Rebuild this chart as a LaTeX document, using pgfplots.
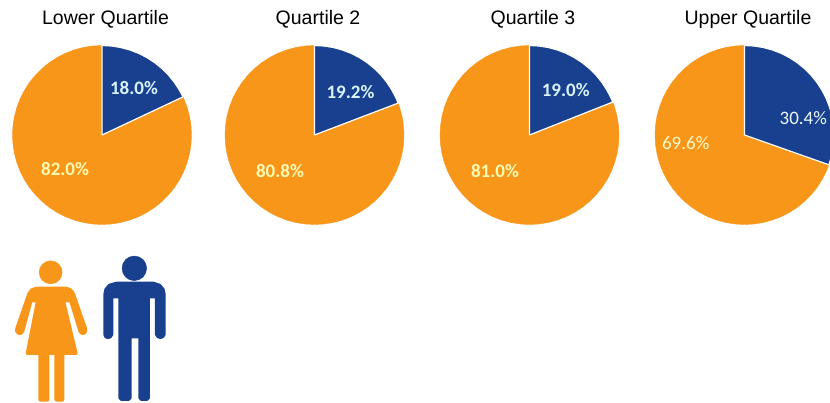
\documentclass[border=0pt]{standalone}
\usepackage{pgfplots}
\usepackage{fontspec}
\pgfplotsset{compat=1.18}
\usepgfplotslibrary{polar}
\setmainfont{Liberation Sans}
\newfontfamily\lab{Carlito}
\definecolor{orng}{HTML}{F8961A}
\definecolor{navy}{HTML}{18408E}
\pgfplotsset{
  pie/.style={
    hide axis, clip=false, scale only axis, width=179pt, height=179pt,
    xmin=0, xmax=360, ymin=0, ymax=1, anchor=center,
    every axis title shift=0pt,
    title style={at={(0.5,1)}, anchor=base, yshift=21pt, xshift=3.5pt, font=\fontsize{19.5}{21}\selectfont},
  },
  big/.style={draw=orng, line width=0.4pt, fill=orng, line join=round},
  small/.style={draw=white, line width=1.2pt, fill=navy, line join=round},
}
\newcommand{\pct}[3]{\node[text=#3, font=\lab\bfseries\fontsize{19}{20}\selectfont] at (axis cs:#1) {#2};}
\newcommand{\pctreg}[3]{\node[text=#3, font=\lab\fontsize{19}{20}\selectfont] at (axis cs:#1) {#2};}
\begin{document}
\begin{tikzpicture}
\path[use as bounding box] (0,0) rectangle (830pt,403pt);

\begin{polaraxis}[pie, at={(102pt,268pt)}, title={Lower Quartile}]
\addplot[big] coordinates {(90,0) (90,1) (96,1) (102,1) (108,1) (114,1) (120,1) (126,1) (132,1) (138,1) (144,1) (150,1) (156,1) (162,1) (168,1) (174,1) (180,1) (186,1) (192,1) (198,1) (204,1) (210,1) (216,1) (222,1) (228,1) (234,1) (240,1) (246,1) (252,1) (258,1) (264,1) (270,1) (276,1) (282,1) (288,1) (294,1) (300,1) (306,1) (312,1) (318,1) (324,1) (330,1) (336,1) (342,1) (348,1) (354,1) (360,1) (6,1) (12,1) (18,1) (24,1) (25.2,1) (25.2,0)};
\addplot[small] coordinates {(90,0) (90,1) (84,1) (78,1) (72,1) (66,1) (60,1) (54,1) (48,1) (42,1) (36,1) (30,1) (25.2,1) (25.2,0) (90,0)};
\pct{55.7,0.635}{18.0\%}{white!85!cyan}
\pct{222.6,0.561}{82.0\%}{white!70!yellow}
\end{polaraxis}

\begin{polaraxis}[pie, at={(314.5pt,268pt)}, title={Quartile 2}]
\addplot[big] coordinates {(90,0) (90,1) (96,1) (102,1) (108,1) (114,1) (120,1) (126,1) (132,1) (138,1) (144,1) (150,1) (156,1) (162,1) (168,1) (174,1) (180,1) (186,1) (192,1) (198,1) (204,1) (210,1) (216,1) (222,1) (228,1) (234,1) (240,1) (246,1) (252,1) (258,1) (264,1) (270,1) (276,1) (282,1) (288,1) (294,1) (300,1) (306,1) (312,1) (318,1) (324,1) (330,1) (336,1) (342,1) (348,1) (354,1) (360,1) (6,1) (12,1) (18,1) (20.88,1) (20.88,0)};
\addplot[small] coordinates {(90,0) (90,1) (84,1) (78,1) (72,1) (66,1) (60,1) (54,1) (48,1) (42,1) (36,1) (30,1) (24,1) (20.88,1) (20.88,0) (90,0)};
\pct{50.3,0.629}{19.2\%}{white!85!cyan}
\pct{226.2,0.557}{80.8\%}{white!70!yellow}
\end{polaraxis}

\begin{polaraxis}[pie, at={(529.5pt,268pt)}, title={Quartile 3}]
\addplot[big] coordinates {(90,0) (90,1) (96,1) (102,1) (108,1) (114,1) (120,1) (126,1) (132,1) (138,1) (144,1) (150,1) (156,1) (162,1) (168,1) (174,1) (180,1) (186,1) (192,1) (198,1) (204,1) (210,1) (216,1) (222,1) (228,1) (234,1) (240,1) (246,1) (252,1) (258,1) (264,1) (270,1) (276,1) (282,1) (288,1) (294,1) (300,1) (306,1) (312,1) (318,1) (324,1) (330,1) (336,1) (342,1) (348,1) (354,1) (360,1) (6,1) (12,1) (18,1) (21.6,1) (21.6,0)};
\addplot[small] coordinates {(90,0) (90,1) (84,1) (78,1) (72,1) (66,1) (60,1) (54,1) (48,1) (42,1) (36,1) (30,1) (24,1) (21.6,1) (21.6,0) (90,0)};
\pct{51,0.643}{19.0\%}{white!85!cyan}
\pct{226.2,0.557}{81.0\%}{white!70!yellow}
\end{polaraxis}

\begin{polaraxis}[pie, at={(744.5pt,268pt)}, title={Upper Quartile}]
\addplot[big] coordinates {(90,0) (90,1) (96,1) (102,1) (108,1) (114,1) (120,1) (126,1) (132,1) (138,1) (144,1) (150,1) (156,1) (162,1) (168,1) (174,1) (180,1) (186,1) (192,1) (198,1) (204,1) (210,1) (216,1) (222,1) (228,1) (234,1) (240,1) (246,1) (252,1) (258,1) (264,1) (270,1) (276,1) (282,1) (288,1) (294,1) (300,1) (306,1) (312,1) (318,1) (324,1) (330,1) (336,1) (340.56,1) (340.56,0)};
\addplot[small] coordinates {(90,0) (90,1) (84,1) (78,1) (72,1) (66,1) (60,1) (54,1) (48,1) (42,1) (36,1) (30,1) (24,1) (18,1) (12,1) (6,1) (0,1) (354,1) (348,1) (342,1) (340.56,1) (340.56,0) (90,0)};
\pctreg{16.1,0.684}{30.4\%}{white!92!cyan}
\pctreg{187.7,0.663}{69.6\%}{white!80!yellow}
\end{polaraxis}

% figures, in a small axis of their own (3 units to the pixel)
\begin{axis}[
  at={(0,0)}, anchor=south west, hide axis, scale only axis, clip=false,
  width=180pt, height=158pt, xmin=0, xmax=540, ymin=0, ymax=474, y dir=reverse]
\addplot[only marks, mark=*, mark size=11.5pt, orng] coordinates {(152,82)};
\addplot[only marks, mark=*, mark size=12.3pt, navy] coordinates {(403,70)};
\addplot[draw=orng, fill=orng, line width=3.3pt, line join=round] coordinates {
  (110,130) (198,130) (212,135) (220,146) (256,250) (257,258) (252,265) (244,264) (240,258) (212,167)
  (190,167) (228,325) (188,325) (188,465) (168,465) (168,325) (143,325) (143,465) (120,465) (120,325)
  (82,325) (113,167) (93,167) (68,258) (64,264) (56,265) (50,258) (51,250) (87,146) (95,135) (110,130)};
\addplot[draw=navy, fill=navy, line width=4pt, line join=round] coordinates {
  (350,116) (460,116) (478,122) (488,134) (491,148) (491,268) (487,274) (481,276) (475,274) (471,268)
  (471,154) (444,154) (444,458) (440,462) (425,462) (421,458) (421,274) (389,274) (389,458) (385,462)
  (365,462) (361,458) (361,154) (334,154) (334,268) (330,274) (324,276) (318,274) (316,268) (316,148)
  (319,134) (329,122) (350,116)};
\end{axis}
\end{tikzpicture}
\end{document}
